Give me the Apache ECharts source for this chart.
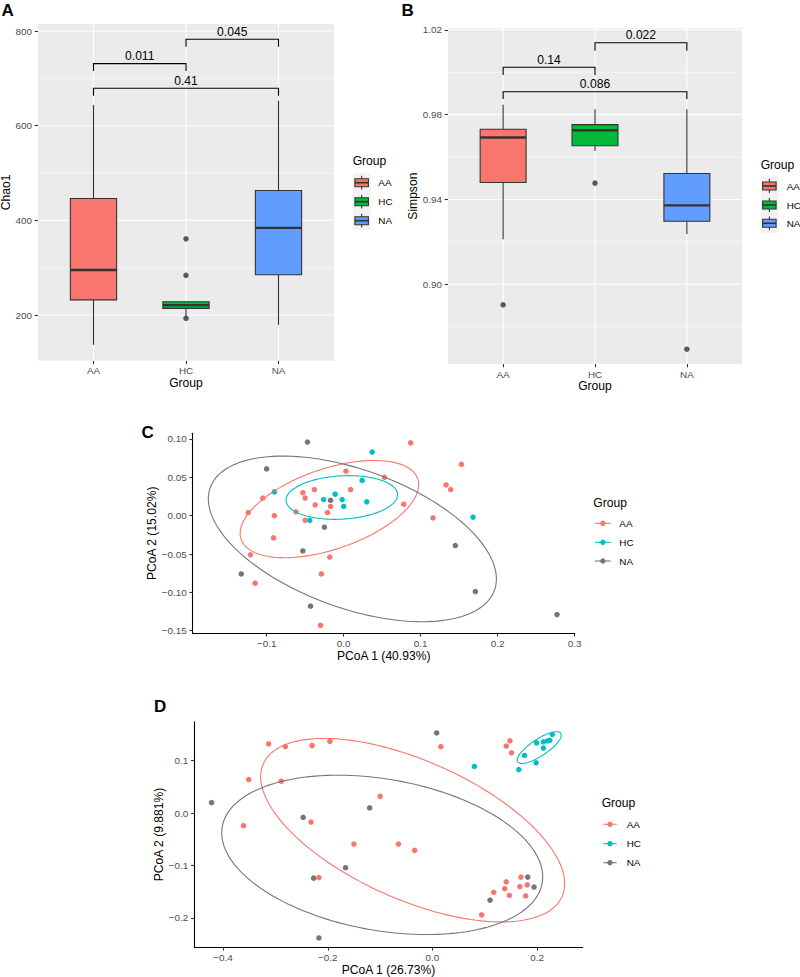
<!DOCTYPE html>
<html><head><meta charset="utf-8">
<script src="https://cdn.jsdelivr.net/npm/echarts@6/dist/echarts.min.js"></script>
<style>html,body{margin:0;padding:0;background:#fff}#c{width:800px;height:977px}</style>
</head><body><div id="c"></div>
<script>
// ---------- DATA ----------
const groups = ['AA', 'HC', 'NA'];
// Panel A (Chao1): [lower whisker, Q1, median, Q3, upper whisker]
const chao1Stats = [[137, 232, 295, 446, 644], [196, 214, 221, 228, 228], [179, 285, 384, 463, 653]];
const chao1Outliers = [[2, 361], [2, 284], [2, 193]];
const chao1Brackets = [[1, 2, 731, 715.5], [2, 3, 782.5, 767], [1, 3, 679, 663]]; // x1, x2, bar, tip
const chao1Pvals = ['0.011', '0.045', '0.41'];
const chao1Ticks = [200, 400, 600, 800];
const chao1Minor = [300, 500, 700];
// Panel B (Simpson)
const simpsonStats = [[0.9212, 0.948, 0.9692, 0.9731, 0.9847], [0.9628, 0.9653, 0.9726, 0.9753, 0.9825], [0.9237, 0.9297, 0.9372, 0.9522, 0.9825]];
const simpsonOutliers = [[1, 0.8903], [2, 0.9477], [3, 0.8694]];
const simpsonBrackets = [[1, 2, 1.0023, 0.9987], [2, 3, 1.0139, 1.0101], [1, 3, 0.9908, 0.9874]];
const simpsonPvals = ['0.14', '0.022', '0.086'];
const simpsonTicks = [0.90, 0.94, 0.98, 1.02];
const simpsonMinor = [0.88, 0.92, 0.96, 1.00];
const groupTicks = [1, 2, 3];
// Panel C (PCoA, 40.93% / 15.02%)
const pcoaC_AA = [[0.087,0.095],[0.003,0.058],[0.053,0.050],[-0.038,0.034],[-0.053,0.030],[-0.050,0.023],[0.009,0.034],[-0.105,0.023],[-0.037,0.014],[-0.017,0.012],[-0.021,0.004],[-0.062,0.005],[-0.124,0.004],[-0.090,0.000],[-0.050,-0.006],[0.078,0.015],[0.116,-0.003],[-0.091,-0.029],[-0.121,-0.051],[-0.018,-0.054],[-0.029,-0.076],[-0.115,-0.088],[-0.030,-0.143],[0.153,0.067],[0.133,0.040],[0.139,0.034]];
const pcoaC_HC = [[0.037,0.083],[0.024,0.046],[-0.090,0.031],[-0.011,0.028],[-0.026,0.021],[-0.002,0.021],[0.000,0.012],[0.030,0.018],[-0.044,-0.006],[0.168,-0.002]];
const pcoaC_NA = [[-0.047,0.096],[-0.100,0.061],[-0.017,0.020],[-0.025,-0.015],[-0.053,-0.046],[-0.133,-0.076],[-0.043,-0.118],[0.145,-0.039],[0.171,-0.099],[0.277,-0.129]];
// ellipse: [cx, cy, half-width x, half-height y, y-offset of rightmost point]
const ellipseC_AA = [-0.0185, 0.0086, 0.1159, 0.0634, 0.0318];
const ellipseC_HC = [-0.0024, 0.0237, 0.0724, 0.0285, 0.0035];
const ellipseC_NA = [0.0113, -0.0303, 0.187, 0.108, -0.0522];
const pcoaCxTicks = [-0.1, 0, 0.1, 0.2, 0.3];
const pcoaCyTicks = [-0.15, -0.10, -0.05, 0, 0.05, 0.10];
// Panel D (PCoA, 26.73% / 9.881%)
const pcoaD_AA = [[-0.313,0.132],[-0.281,0.127],[-0.230,0.129],[-0.196,0.137],[0.016,0.127],[-0.351,0.064],[-0.289,0.061],[-0.100,0.032],[-0.361,-0.024],[-0.232,-0.017],[-0.150,-0.059],[-0.065,-0.059],[-0.034,-0.071],[-0.217,-0.123],[0.141,0.128],[0.148,0.138],[0.151,0.115],[0.169,-0.122],[0.141,-0.131],[0.138,-0.144],[0.117,-0.151],[0.147,-0.157],[0.167,-0.140],[0.181,-0.137],[0.178,-0.158],[0.094,-0.194]];
const pcoaD_HC = [[0.080,0.089],[0.165,0.083],[0.176,0.110],[0.198,0.096],[0.199,0.134],[0.212,0.136],[0.212,0.124],[0.220,0.138],[0.224,0.139],[0.229,0.150]];
const pcoaD_NA = [[0.008,0.153],[-0.422,0.020],[-0.247,-0.008],[-0.120,0.010],[-0.166,-0.104],[-0.227,-0.124],[-0.217,-0.238],[0.182,-0.122],[0.194,-0.141],[0.110,-0.166]];
const ellipseD_AA = [-0.0378, -0.0325, 0.2904, 0.175, -0.102];
const ellipseD_HC = [0.204, 0.125, 0.042, 0.0303, 0.0239];
const ellipseD_NA = [-0.096, -0.0796, 0.3066, 0.152, -0.042];
const pcoaDxTicks = [-0.4, -0.2, 0, 0.2];
const pcoaDyTicks = [-0.2, -0.1, 0, 0.1];

// ---------- STYLE ----------
const FF = "'Liberation Sans', Arial, Helvetica, sans-serif";
const boxColors = ['#F8766D', '#00BA38', '#619CFF'];
const pcoaColors = ['#F8766D', '#00BFC4', '#767676'];
const TICK = 9.9, TITLE = 12.1;

function fmtNum(v, d) { const s = Math.abs(v).toFixed(d); return (v < -1e-9 ? '\u2212' : '') + s; }

function axis(o) {
  return {
    type: 'value', gridIndex: o.grid, min: o.min, max: o.max,
    name: o.name, nameLocation: 'middle', nameGap: o.gap,
    nameTextStyle: { fontFamily: FF, fontSize: TITLE, color: '#000' },
    axisLine: { show: !!o.line, onZero: false, lineStyle: { color: '#000', width: 1.1 } },
    axisTick: { show: true, customValues: o.ticks, length: 3.3, lineStyle: { color: '#333', width: 1.1 } },
    axisLabel: { customValues: o.ticks, formatter: o.fmt, color: '#4D4D4D', fontFamily: FF, fontSize: TICK, margin: o.margin },
    splitLine: { show: false }
  };
}

const xAxes = [
  axis({ grid: 0, min: 0.4, max: 3.6, name: 'Group', gap: 15, ticks: groupTicks, fmt: v => groups[Math.round(v) - 1], margin: 5 }),
  axis({ grid: 1, min: 0.4, max: 3.6, name: 'Group', gap: 16, ticks: groupTicks, fmt: v => groups[Math.round(v) - 1], margin: 5 }),
  axis({ grid: 2, min: -0.196, max: 0.3, name: 'PCoA 1 (40.93%)', gap: 17, ticks: pcoaCxTicks, fmt: v => fmtNum(v, 1), margin: 5.5, line: true }),
  axis({ grid: 3, min: -0.455, max: 0.287, name: 'PCoA 1 (26.73%)', gap: 17, ticks: pcoaDxTicks, fmt: v => fmtNum(v, 1), margin: 5.5, line: true })
];
const yAxes = [
  axis({ grid: 0, min: 103.5, max: 814.8, name: 'Chao1', gap: 26, ticks: chao1Ticks, fmt: v => String(Math.round(v)), margin: 6 }),
  axis({ grid: 1, min: 0.8624, max: 1.0207, name: 'Simpson', gap: 28.7, ticks: simpsonTicks, fmt: v => v.toFixed(2), margin: 6 }),
  axis({ grid: 2, min: -0.1534, max: 0.1074, name: 'PCoA 2 (15.02%)', gap: 34.7, ticks: pcoaCyTicks, fmt: v => fmtNum(v, 2), margin: 6, line: true }),
  axis({ grid: 3, min: -0.2559, max: 0.1744, name: 'PCoA 2 (9.881%)', gap: 28.3, ticks: pcoaDyTicks, fmt: v => fmtNum(v, 1), margin: 6, line: true })
];

const grids = [
  { left: 38, top: 24, width: 296, height: 336.7, show: true, backgroundColor: '#EBEBEB', borderWidth: 0 },
  { left: 448, top: 28.3, width: 294, height: 335.7, show: true, backgroundColor: '#EBEBEB', borderWidth: 0 },
  { left: 192.7, top: 433.3, width: 382, height: 200 },
  { left: 194.3, top: 721.7, width: 388.4, height: 225.6 }
].map(g => Object.assign({ containLabel: false, outerBoundsMode: 'none' }, g));

function gridLineSeries(i, major, minor, yRef) {
  const data = major.map(v => [0, v, 1.1]).concat(minor.map(v => [0, v, 0.55])).concat(groupTicks.map(v => [1, v, 1.1]));
  return {
    type: 'custom', xAxisIndex: i, yAxisIndex: i, z: 1, silent: true, animation: false,
    data: data,
    renderItem(params, api) {
      const cs = params.coordSys; const o = api.value(0), v = api.value(1), w = api.value(2);
      let shape;
      if (o === 0) { const p = api.coord([2, v]); shape = { x1: cs.x, y1: p[1], x2: cs.x + cs.width, y2: p[1] }; }
      else { const p = api.coord([v, yRef]); shape = { x1: p[0], y1: cs.y, x2: p[0], y2: cs.y + cs.height }; }
      return { type: 'line', shape: shape, style: { stroke: '#FFFFFF', lineWidth: w } };
    }
  };
}

function boxSeries(i, stats) {
  return {
    type: 'custom', xAxisIndex: i, yAxisIndex: i, z: 3, silent: true, animation: false,
    data: stats.map((s, k) => [k + 1].concat(s)),
    renderItem(params, api) {
      const x = api.value(0);
      const lo = api.coord([x, api.value(1)]), q1 = api.coord([x, api.value(2)]), md = api.coord([x, api.value(3)]),
            q3 = api.coord([x, api.value(4)]), hi = api.coord([x, api.value(5)]);
      const half = api.size([0.5, 0])[0] / 2;
      const st = { stroke: '#333333', lineWidth: 1.1 };
      return { type: 'group', children: [
        { type: 'line', shape: { x1: lo[0], y1: lo[1], x2: q1[0], y2: q1[1] }, style: st },
        { type: 'line', shape: { x1: q3[0], y1: q3[1], x2: hi[0], y2: hi[1] }, style: st },
        { type: 'rect', shape: { x: lo[0] - half, y: q3[1], width: 2 * half, height: q1[1] - q3[1] }, style: { fill: boxColors[params.dataIndex], stroke: '#333333', lineWidth: 1.1 } },
        { type: 'line', shape: { x1: lo[0] - half, y1: md[1], x2: lo[0] + half, y2: md[1] }, style: { stroke: '#333333', lineWidth: 2.4 } }
      ] };
    }
  };
}

function bracketSeries(i, br, labels) {
  return {
    type: 'custom', xAxisIndex: i, yAxisIndex: i, z: 4, silent: true, animation: false,
    data: br,
    renderItem(params, api) {
      const x1 = api.value(0), x2 = api.value(1), yb = api.value(2), yt = api.value(3);
      const a = api.coord([x1, yb]), b = api.coord([x2, yb]), ta = api.coord([x1, yt]), tb = api.coord([x2, yt]);
      return { type: 'group', children: [
        { type: 'polyline', shape: { points: [ta, a, b, tb] }, style: { stroke: '#000', lineWidth: 1.1, fill: 'none' } },
        { type: 'text', style: { text: labels[params.dataIndex], x: (a[0] + b[0]) / 2, y: a[1] - 1.5, align: 'center', verticalAlign: 'bottom', font: '12.1px ' + FF, fill: '#000' } }
      ] };
    }
  };
}

function outlierSeries(i, pts) {
  return { type: 'scatter', xAxisIndex: i, yAxisIndex: i, z: 5, silent: true, animation: false, data: pts,
    symbol: 'circle', symbolSize: 5.5, itemStyle: { color: '#333333' } };
}

function pointSeries(i, pts, color) {
  return { type: 'scatter', xAxisIndex: i, yAxisIndex: i, z: 3, silent: true, animation: false, data: pts,
    symbol: 'circle', symbolSize: 5.5, itemStyle: { color: color, opacity: 1 } };
}

function ellipseSeries(i, e, color) {
  return {
    type: 'custom', xAxisIndex: i, yAxisIndex: i, z: 4, silent: true, animation: false,
    data: [e],
    renderItem(params, api) {
      const cx = api.value(0), cy = api.value(1), hx = api.value(2), hy = api.value(3), dy = api.value(4);
      const b = Math.sqrt(Math.max(hy * hy - dy * dy, 0));
      const pts = [];
      for (let k = 0; k <= 160; k++) {
        const t = 2 * Math.PI * k / 160;
        pts.push(api.coord([cx + hx * Math.cos(t), cy + dy * Math.cos(t) + b * Math.sin(t)]));
      }
      return { type: 'polyline', shape: { points: pts }, style: { stroke: color, lineWidth: 1.1, fill: 'none' } };
    }
  };
}

const series = [
  gridLineSeries(0, chao1Ticks, chao1Minor, 400),
  boxSeries(0, chao1Stats), outlierSeries(0, chao1Outliers), bracketSeries(0, chao1Brackets, chao1Pvals),
  gridLineSeries(1, simpsonTicks, simpsonMinor, 0.94),
  boxSeries(1, simpsonStats), outlierSeries(1, simpsonOutliers), bracketSeries(1, simpsonBrackets, simpsonPvals),
  pointSeries(2, pcoaC_AA, pcoaColors[0]), pointSeries(2, pcoaC_HC, pcoaColors[1]), pointSeries(2, pcoaC_NA, pcoaColors[2]),
  ellipseSeries(2, ellipseC_AA, pcoaColors[0]), ellipseSeries(2, ellipseC_HC, pcoaColors[1]), ellipseSeries(2, ellipseC_NA, pcoaColors[2]),
  pointSeries(3, pcoaD_AA, pcoaColors[0]), pointSeries(3, pcoaD_HC, pcoaColors[1]), pointSeries(3, pcoaD_NA, pcoaColors[2]),
  ellipseSeries(3, ellipseD_AA, pcoaColors[0]), ellipseSeries(3, ellipseD_HC, pcoaColors[1]), ellipseSeries(3, ellipseD_NA, pcoaColors[2])
];

// ---------- legends & panel letters (graphic) ----------
const graphic = [];
function txt(t, x, y, size, opts) {
  graphic.push({ type: 'text', silent: true, style: Object.assign({ text: t, x: x, y: y, font: size + 'px ' + FF, fill: '#000', verticalAlign: 'middle', align: 'left' }, opts || {}) });
}
function boxLegend(titleX, titleY, keyX, centers, textX) {
  txt('Group', titleX, titleY, TITLE);
  const w = 17.3, h = 17.3;
  centers.forEach((cy, k) => {
    const top = cy - h / 2;
    graphic.push({ type: 'rect', silent: true, shape: { x: keyX, y: cy - 9.5, width: w + 0.6, height: 19 }, style: { fill: '#F2F2F2' } });
    graphic.push({ type: 'line', silent: true, shape: { x1: keyX + w / 2, y1: top + 0.1 * h, x2: keyX + w / 2, y2: top + 0.9 * h }, style: { stroke: '#333', lineWidth: 1.1 } });
    graphic.push({ type: 'rect', silent: true, shape: { x: keyX + 0.11 * w, y: top + 0.27 * h, width: 0.78 * w, height: 0.46 * h }, style: { fill: boxColors[k], stroke: '#333', lineWidth: 1.1 } });
    graphic.push({ type: 'line', silent: true, shape: { x1: keyX + 0.11 * w, y1: cy, x2: keyX + 0.89 * w, y2: cy }, style: { stroke: '#333', lineWidth: 1.6 } });
    txt(groups[k], textX, cy, TICK);
  });
}
function lineLegend(titleX, titleY, x1, x2, centers, textX) {
  txt('Group', titleX, titleY, TITLE);
  centers.forEach((cy, k) => {
    graphic.push({ type: 'line', silent: true, shape: { x1: x1, y1: cy, x2: x2, y2: cy }, style: { stroke: pcoaColors[k], lineWidth: 1.1 } });
    graphic.push({ type: 'circle', silent: true, shape: { cx: (x1 + x2) / 2, cy: cy, r: 2.7 }, style: { fill: pcoaColors[k] } });
    txt(groups[k], textX, cy, TICK);
  });
}
boxLegend(352.7, 161, 353, [182.7, 201.7, 220.7], 378.3);
boxLegend(760.7, 165, 760.7, [186, 205, 223.3], 786.7);
lineLegend(593.3, 502.7, 595, 610.7, [523.3, 542.3, 561], 619.3);
lineLegend(601.7, 802.7, 603.3, 616.7, [824.3, 843.7, 862.7], 626.7);
const bold = { font: 'bold 17px ' + FF, verticalAlign: 'middle' };
txt('A', 1.5, 10, 17, bold);
txt('B', 401.5, 10, 17, bold);
txt('C', 141.5, 432, 17, bold);
txt('D', 154, 706, 17, bold);

const chart = echarts.init(document.getElementById('c'), null, { renderer: 'svg' });
chart.setOption({
  animation: false,
  backgroundColor: '#FFFFFF',
  textStyle: { fontFamily: FF },
  grid: grids, xAxis: xAxes, yAxis: yAxes, series: series, graphic: graphic
});
</script></body></html>
